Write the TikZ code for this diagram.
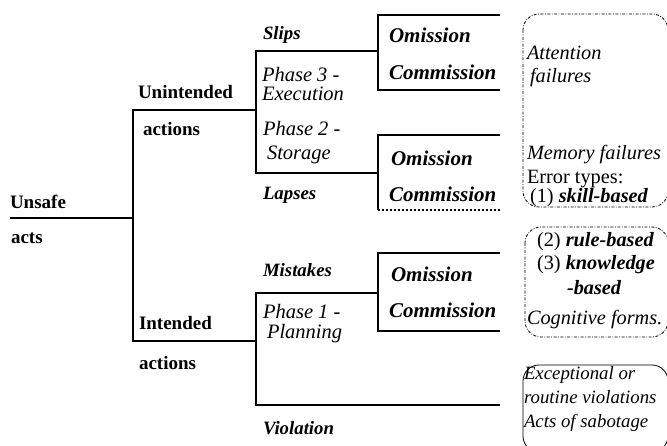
\documentclass[tikz,border=0pt]{standalone}
\usepackage{fontspec}
\setmainfont{Liberation Serif}[
  UprightFont={Liberation Serif},
  BoldFont={Liberation Serif Bold},
  ItalicFont={Liberation Serif Italic},
  BoldItalicFont={Liberation Serif Bold Italic}]
\begin{document}
\begin{tikzpicture}[x=1pt,y=-1pt,
  wire/.style={line width=2.9pt},
  dotwire/.style={line width=2.9pt,dash pattern=on 2.4pt off 1.6pt},
  txt/.style={anchor=base west,inner sep=0pt,outer sep=0pt},
  lbl/.style={txt,font=\fontsize{19}{22}\selectfont\bfseries},
  cat/.style={txt,font=\fontsize{18.8}{22}\selectfont\bfseries\itshape},
  phase/.style={txt,font=\fontsize{20.5}{24}\selectfont\itshape},
  oc/.style={txt,font=\fontsize{21}{24}\selectfont\bfseries\itshape},
  bt/.style={txt,font=\fontsize{20.3}{24}\selectfont},
  bti/.style={txt,font=\fontsize{20.3}{24}\selectfont\itshape},
  vt/.style={txt,font=\fontsize{18.8}{22}\selectfont\itshape},
  dashdot/.style={line width=0.8pt,rounded corners=16pt,dash pattern=on 3pt off 1.5pt on 0.8pt off 1.5pt},
  solidbox/.style={line width=0.8pt,rounded corners=16pt}]
\useasboundingbox (0,0) rectangle (667,446);

% junction coordinates
\coordinate (root) at (10,218);
\coordinate (t1) at (133,218);
\coordinate (u0) at (133,110); \coordinate (u1) at (256,110);
\coordinate (i0) at (133,341); \coordinate (i1) at (256,341);
\coordinate (s0) at (256,51);  \coordinate (s1) at (378,51);
\coordinate (l0) at (256,173); \coordinate (l1) at (378,173);
\coordinate (m0) at (256,293); \coordinate (m1) at (378,293);
\coordinate (v0) at (256,405); \coordinate (v1) at (500,405);
\coordinate (so0) at (378,15);  \coordinate (so1) at (500,15);
\coordinate (sc0) at (378,90);  \coordinate (sc1) at (500,90);
\coordinate (lo0) at (378,135); \coordinate (lo1) at (500,135);
\coordinate (lc0) at (378,210); \coordinate (lc1) at (500,210);
\coordinate (mo0) at (378,253); \coordinate (mo1) at (500,253);
\coordinate (mc0) at (378,331); \coordinate (mc1) at (500,331);

% tree
\draw[wire] (root) -- (t1);
\draw[wire] (u1) -- (u0) -- (i0) -- (i1);
\draw[wire] (s1) -- (s0) -- (l0) -- (l1);
\draw[wire] (m1) -- (m0) -- (v0) -- (v1);
\draw[wire] (so1) -- (so0) -- (sc0) -- (sc1);
\draw[wire] (lo1) -- (lo0) -- (lc0);
\draw[dotwire] (lc0) -- (lc1);
\draw[wire] (mo1) -- (mo0) -- (mc0) -- (mc1);

% labels
\node[lbl] (unsafe) at (10,209) {Unsafe};
\node[lbl] (acts) at (11,244) {acts};
\node[lbl] (unint) at (138,99) {Unintended};
\node[lbl] (unact) at (143,136) {actions};
\node[lbl] (inte) at (139,330) {Intended};
\node[lbl] (inact) at (139,370) {actions};

\node[cat] (slips) at (263,40) {Slips};
\node[phase] (ph3) at (262,82) {Phase 3 -};
\node[phase] (exe) at (262,101) {Execution};
\node[phase] (ph2) at (263,136) {Phase 2 -};
\node[phase] (sto) at (267,160) {Storage};
\node[cat] (lapses) at (263,200) {Lapses};
\node[cat] (mist) at (263,277) {Mistakes};
\node[phase] (ph1) at (263,319) {Phase 1 -};
\node[phase] (plan) at (267,339) {Planning};
\node[cat] (viol) at (263,435) {Violation};

\node[oc] (om1) at (389,43) {Omission};
\node[oc] (co1) at (389,80) {Commission};
\node[oc] (om2) at (391,166) {Omission};
\node[oc] (co2) at (389,202) {Commission};
\node[oc] (om3) at (391,282) {Omission};
\node[oc] (co3) at (389,318) {Commission};

% boxes
\draw[dashdot] (523,14) rectangle (668,207);
\draw[dashdot] (525,227) rectangle (668,337);
\draw[solidbox] (523,365) rectangle (668,452);

\node[bti] (att) at (527,60) {Attention};
\node[bti] (fail) at (530,83) {failures};
\node[bti] (mem) at (527,160) {Memory failures};
\node[bt] (err) at (527,184) {Error types:};
\node[bt] (sk) at (530,203) {(1) \textbf{\textit{skill-based}}};
\node[bt] (rb) at (537,247) {(2) \textbf{\textit{rule-based}}};
\node[bt] (kb) at (537,270) {(3) \textbf{\textit{knowledge}}};
\node[bt] (kb2) at (567,295) {\textbf{\textit{-based}}};
\node[bti] (cog) at (527,325) {Cognitive forms.};
\node[vt] (exc) at (524,380) {Exceptional or};
\node[vt] (rout) at (524,403) {routine violations};
\node[vt] (sab) at (524,427) {Acts of sabotage};
\end{tikzpicture}
\end{document}
